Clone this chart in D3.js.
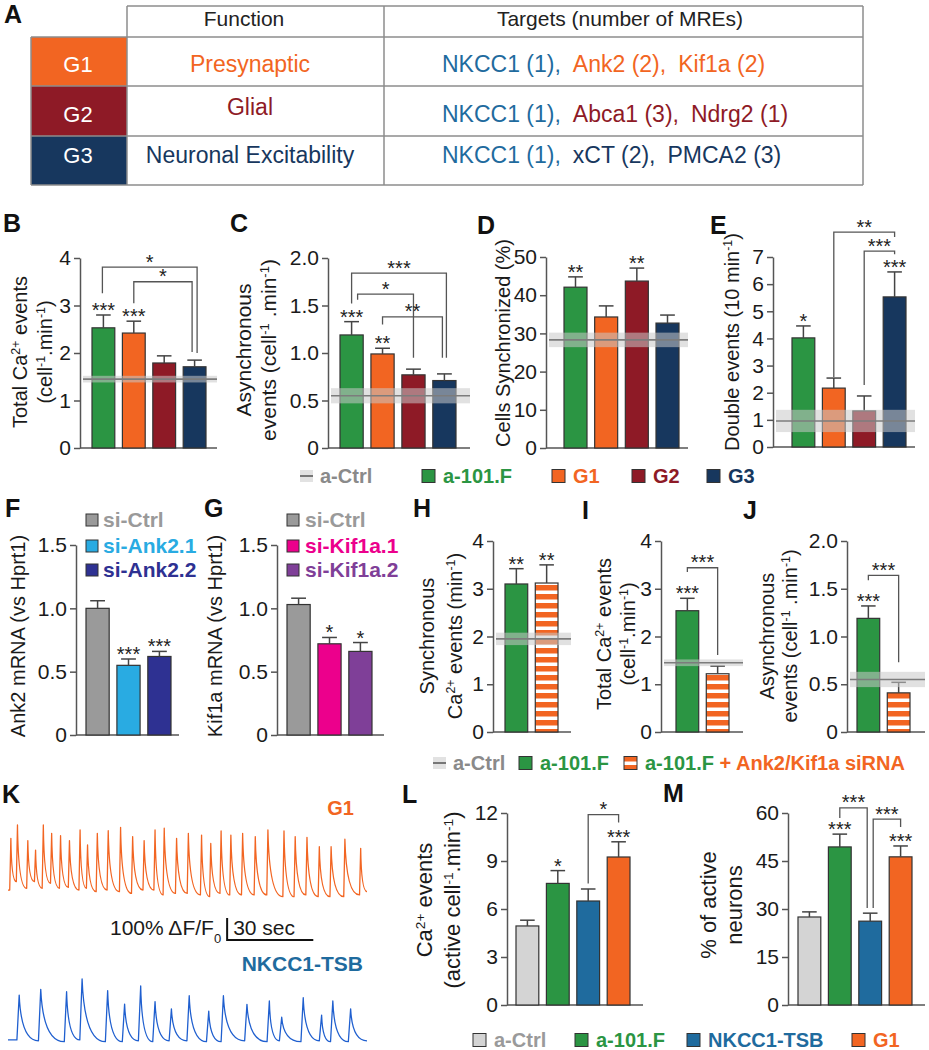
<!DOCTYPE html>
<html>
<head>
<meta charset="utf-8">
<script src="https://cdn.jsdelivr.net/npm/d3@7"></script>
<style>
body { margin: 0; background: #fff; }
svg { display: block; font-family: "Liberation Sans", Arial, Helvetica, sans-serif; }
</style>
</head>
<body>
<script>
// ---------- data ----------
var groupIds = ["G1", "G2", "G3"];
var groupFunctions = ["Presynaptic", "Glial", "Neuronal Excitability"];
var groupTargets = [
  ["NKCC1 (1)", "Ank2 (2)", "Kif1a (2)"],
  ["NKCC1 (1)", "Abca1 (3)", "Ndrg2 (1)"],
  ["NKCC1 (1)", "xCT (2)", "PMCA2 (3)"]
];

var treatments = ["a-101.F", "G1", "G2", "G3"];
var totalMean = [2.53, 2.42, 1.79, 1.71], totalSem = [0.27, 0.25, 0.15, 0.14];
var asyncMean = [1.19, 0.99, 0.77, 0.71], asyncSem = [0.14, 0.06, 0.06, 0.07];
var syncPctMean = [42.1, 34.3, 43.7, 32.7], syncPctSem = [2.7, 2.9, 3.4, 2.1];
var doubleMean = [4.02, 2.17, 1.33, 5.53], doubleSem = [0.44, 0.37, 0.55, 0.92];
var ctrlTotal = [1.45, 0.07], ctrlAsync = [0.55, 0.08], ctrlSync = [28.3, 1.9], ctrlDouble = [0.96, 0.41], ctrlSyncEv = [1.95, 0.13];

var ankGroups = ["si-Ctrl", "si-Ank2.1", "si-Ank2.2"];
var ankMean = [1.0, 0.55, 0.62], ankSem = [0.06, 0.05, 0.04];
var kifGroups = ["si-Ctrl", "si-Kif1a.1", "si-Kif1a.2"];
var kifMean = [1.03, 0.72, 0.66], kifSem = [0.05, 0.05, 0.07];

var sirnaGroups = ["a-101.F", "a-101.F + Ank2/Kif1a siRNA"];
var syncEvMean = [3.10, 3.12], syncEvSem = [0.32, 0.38];
var sirnaTotalMean = [2.54, 1.22], sirnaTotalSem = [0.26, 0.16];
var sirnaAsyncMean = [1.19, 0.41], sirnaAsyncSem = [0.13, 0.11];

var neuronGroups = ["a-Ctrl", "a-101.F", "NKCC1-TSB", "G1"];
var activeEvMean = [4.94, 7.6, 6.5, 9.25], activeEvSem = [0.36, 0.8, 0.75, 0.95];
var activePctMean = [27.5, 49.4, 26.2, 46.3], activePctSem = [1.6, 4.0, 2.5, 3.4];

// calcium traces: rise time (s), peak and pre-rise level (% dF/F0)
var g1Time = [1.0, 3.3, 6.9, 9.6, 12.3, 15.2, 18.3, 21.4, 25.1, 27.7, 31.1, 34.9, 39.2, 43.4, 47.4, 51.2, 54.4,
  58.7, 62.8, 67.4, 70.6, 74.2, 77.6, 81.7, 86.1, 90.5, 96.1, 100.0, 104.1, 108.4, 112.5, 117.3, 122.8];
var g1Peak = [271, 332, 261, 218, 332, 294, 283, 261, 309, 241, 294, 306, 321, 279, 261, 309, 317,
  271, 294, 286, 248, 305, 286, 294, 279, 309, 305, 279, 276, 233, 233, 267, 226];
var g1Trough = [36, 74, 44, 74, 44, 67, 44, 48, 36, 44, 29, 36, 29, 21, 36, 36, 14,
  21, 21, 14, 6, 21, 14, 14, 14, 14, 6, 6, 14, 6, 6, 6, 14];
var g1End = 29;
var tsbTime = [3.9, 11.4, 20.4, 25.8, 34.7, 40.6, 46.2, 51.2, 56.9, 63.1, 69.9, 75.0, 83.2, 91.0, 95.3, 102.8, 109.2, 113.1, 119.3];
var tsbPeak = [218, 244, 233, 291, 238, 177, 259, 188, 155, 215, 145, 215, 176, 191, 117, 206, 127, 191, 155];
var tsbTrough = [14, 10, 6, 14, 6, 6, 10, 6, 10, 10, 6, 6, 10, 6, 10, 6, 10, 6, 6];
var tsbEnd = 10;

// ---------- styles ----------
var col = {
  green: "#2b9543", orange: "#f26522", red: "#8e1a26", navy: "#17375e", nkcc: "#1f6b9e",
  grey: "#9a9a9a", lgrey: "#d4d4d4", cyan: "#29abe2", blue2: "#2e3192", pink: "#ec008c",
  purple: "#7f3f98", trace2: "#1f5fcf", txt: "#1a1a1a", axis: "#555"
};
var groupCol = [col.orange, col.red, col.navy];

var svg = d3.select("body").append("svg").attr("width", 929).attr("height", 1050);
svg.append("rect").attr("width", 929).attr("height", 1050).attr("fill", "#fff");

var defs = svg.append("defs");
var pat = defs.append("pattern").attr("id", "stripes").attr("patternUnits", "userSpaceOnUse")
  .attr("width", 10).attr("height", 9);
pat.append("rect").attr("width", 10).attr("height", 9).attr("fill", "#fff");
pat.append("rect").attr("width", 10).attr("height", 5.5).attr("fill", col.orange);

// ---------- panel letters ----------
[["A", 4, 23], ["B", 3, 232], ["C", 230, 232], ["D", 477, 234], ["E", 710, 234],
 ["F", 5, 517], ["G", 204, 517], ["H", 413, 517], ["I", 582, 519], ["J", 743, 519],
 ["K", 2, 803], ["L", 402, 803], ["M", 663, 802]].forEach(function(p) {
  svg.append("text").attr("x", p[1]).attr("y", p[2]).attr("font-size", 25).attr("font-weight", "bold")
    .attr("fill", "#111").text(p[0]);
});

// ---------- A: table ----------
var tb = { x0: 31, x1: 127, x2: 384, x3: 863, r: [6, 37, 86, 136, 185] };
groupIds.forEach(function(gid, i) {
  svg.append("rect").attr("x", tb.x0).attr("y", tb.r[i + 1]).attr("width", tb.x1 - tb.x0)
    .attr("height", tb.r[i + 2] - tb.r[i + 1]).attr("fill", groupCol[i]);
});
var tl = svg.append("g").attr("stroke", "#8c8c8c").attr("stroke-width", 1.5);
tl.append("line").attr("x1", tb.x1).attr("x2", tb.x3).attr("y1", tb.r[0]).attr("y2", tb.r[0]);
tb.r.slice(1).forEach(function(yy) {
  tl.append("line").attr("x1", tb.x0).attr("x2", tb.x3).attr("y1", yy).attr("y2", yy);
});
[tb.x1, tb.x2, tb.x3].forEach(function(xx) {
  tl.append("line").attr("x1", xx).attr("x2", xx).attr("y1", tb.r[0]).attr("y2", tb.r[4]);
});
tl.append("line").attr("x1", tb.x0).attr("x2", tb.x0).attr("y1", tb.r[1]).attr("y2", tb.r[4]);

svg.append("text").attr("x", 244).attr("y", 26).attr("text-anchor", "middle").attr("font-size", 21)
  .attr("fill", "#222").text("Function");
svg.append("text").attr("x", 620).attr("y", 26).attr("text-anchor", "middle").attr("font-size", 21)
  .attr("fill", "#222").text("Targets (number of MREs)");
var fnBase = [72, 115, 163], rowBase = [72, 122, 163];
groupIds.forEach(function(gid, i) {
  svg.append("text").attr("x", 78).attr("y", rowBase[i]).attr("text-anchor", "middle").attr("font-size", 22)
    .attr("fill", "#fff").text(gid);
  svg.append("text").attr("x", 250).attr("y", fnBase[i]).attr("text-anchor", "middle").attr("font-size", 23)
    .attr("fill", groupCol[i]).text(groupFunctions[i]);
  var t = svg.append("text").attr("x", 442).attr("y", rowBase[i]).attr("font-size", 23);
  groupTargets[i].forEach(function(gene, j) {
    t.append("tspan").attr("dx", j ? 12 : 0)
      .attr("fill", gene.indexOf("NKCC1") === 0 ? col.nkcc : groupCol[i])
      .text(gene + (j < groupTargets[i].length - 1 ? "," : ""));
  });
});

// ---------- helpers ----------
function richText(sel, segs) {
  segs.forEach(function(s) {
    var ts = sel.append("tspan").text(s[0]);
    if (s[1] === "sup") ts.attr("baseline-shift", "super").attr("font-size", "0.62em");
    if (s[1] === "sub") ts.attr("baseline-shift", "sub").attr("font-size", "0.62em");
  });
}

function yLabel(lines, xs, cy, fs) {
  lines.forEach(function(segs, k) {
    var t = svg.append("text").attr("transform", "translate(" + xs[k] + "," + cy + ") rotate(-90)")
      .attr("text-anchor", "middle").attr("font-size", fs).attr("fill", col.txt);
    richText(t, segs);
  });
}

function barPanel(o) {
  var g = svg.append("g");
  var n = o.values.length;
  var x = d3.scaleBand().domain(d3.range(n)).range(o.bars).paddingInner(0.25).paddingOuter(0);
  var y = d3.scaleLinear().domain([0, o.ymax]).range([o.y0, o.y1]);
  var bw = x.bandwidth();
  var fmt = o.dec ? function(d) { return d === 0 ? "0" : d3.format(".1f")(d); } : d3.format("d");

  var ax = g.append("g").attr("transform", "translate(" + o.ax + ",0)")
    .call(d3.axisLeft(y).tickValues(o.ticks).tickSize(6).tickSizeOuter(0).tickPadding(3).tickFormat(fmt));
  ax.attr("font-size", 21).attr("font-family", null);
  ax.selectAll("path, line").attr("stroke", col.axis).attr("stroke-width", 1.5);
  ax.selectAll("text").attr("fill", col.txt);
  g.append("line").attr("x1", o.ax).attr("x2", o.end).attr("y1", y(0)).attr("y2", y(0))
    .attr("stroke", col.axis).attr("stroke-width", 1.5);

  g.selectAll("rect.bar").data(o.values).join("rect").attr("class", "bar")
    .attr("x", function(d, i) { return x(i); }).attr("width", bw)
    .attr("y", function(d) { return y(d); }).attr("height", function(d) { return y(0) - y(d); })
    .attr("fill", function(d, i) { return o.fills[i]; })
    .attr("stroke", "#333").attr("stroke-width", 1.2);

  o.values.forEach(function(d, i) {
    var cx = x(i) + bw / 2, top = y(d + o.sem[i]);
    g.append("line").attr("x1", cx).attr("x2", cx).attr("y1", y(d)).attr("y2", top)
      .attr("stroke", "#444").attr("stroke-width", 1.5);
    g.append("line").attr("x1", cx - bw * 0.32).attr("x2", cx + bw * 0.32).attr("y1", top).attr("y2", top)
      .attr("stroke", "#444").attr("stroke-width", 1.5);
  });

  if (o.ctrl) {
    g.append("rect").attr("x", o.ax + 3).attr("width", o.end - o.ax - 3)
      .attr("y", y(o.ctrl[0] + o.ctrl[1])).attr("height", y(o.ctrl[0] - o.ctrl[1]) - y(o.ctrl[0] + o.ctrl[1]))
      .attr("fill", "#c9c9c9").attr("opacity", 0.55);
    g.append("line").attr("x1", o.ax + 3).attr("x2", o.end).attr("y1", y(o.ctrl[0])).attr("y2", y(o.ctrl[0]))
      .attr("stroke", "#7c7c7c").attr("stroke-width", 1.6);
  }

  (o.stars || []).forEach(function(s, i) {
    if (!s) return;
    g.append("text").attr("x", x(i) + bw / 2).attr("y", y(o.values[i] + o.sem[i]) + 2)
      .attr("text-anchor", "middle").attr("font-size", 20).attr("fill", "#222").text(s);
  });

  (o.brackets || []).forEach(function(b) {
    var xa = x(b.a) + bw / 2 + (b.dxa || 0), xb = x(b.b) + bw / 2 + (b.dxb || 0);
    g.append("path").attr("d", "M" + xa + "," + y(b.ya) + "V" + y(b.y) + "H" + xb + "V" + y(b.yb))
      .attr("fill", "none").attr("stroke", "#555").attr("stroke-width", 1.3);
    g.append("text").attr("x", (xa + xb) / 2).attr("y", y(b.y) + 1.5).attr("text-anchor", "middle")
      .attr("font-size", 20).attr("fill", "#222").text(b.lab);
  });
}

function legendItem(x, yc, fill, label, color) {
  svg.append("rect").attr("x", x).attr("y", yc - 6.5).attr("width", 13).attr("height", 13)
    .attr("fill", fill).attr("stroke", "#333").attr("stroke-width", 1);
  var t = svg.append("text").attr("x", x + 21).attr("y", yc + 7).attr("font-size", 20)
    .attr("font-weight", "bold");
  if (typeof label === "string") t.attr("fill", color).text(label);
  else label.forEach(function(s) { t.append("tspan").attr("fill", s[1]).text(s[0]); });
}

function ctrlLegend(x, yc, label) {
  svg.append("rect").attr("x", x).attr("y", yc - 6).attr("width", 13).attr("height", 12).attr("fill", "#e2e2e2");
  svg.append("line").attr("x1", x).attr("x2", x + 13).attr("y1", yc).attr("y2", yc)
    .attr("stroke", "#777").attr("stroke-width", 2);
  svg.append("text").attr("x", x + 20).attr("y", yc + 7).attr("font-size", 20).attr("font-weight", "bold")
    .attr("fill", "#8a8a8a").text(label);
}

var fourFill = [col.green, col.orange, col.red, col.navy];

// ---------- B - E ----------
barPanel({ values: totalMean, sem: totalSem, fills: fourFill, ctrl: ctrlTotal,
  ax: 80, end: 217, bars: [92, 206], y0: 448, y1: 258, ymax: 4, ticks: [0, 1, 2, 3, 4],
  stars: ["***", "***", "", ""],
  brackets: [{ a: 0, b: 3, y: 3.81, ya: 3.26, yb: 2.0, lab: "*", dxa: -1, dxb: 2.5 },
             { a: 1, b: 3, y: 3.5, ya: 3.05, yb: 2.02, lab: "*", dxb: -2.5 }] });
yLabel([[["Total Ca"], ["2+", "sup"], [" events"]], [["(cell"], ["-1", "sup"], [".min"], ["-1", "sup"], [")"]]],
  [27, 52], 352, 20);

barPanel({ values: asyncMean, sem: asyncSem, fills: fourFill, ctrl: ctrlAsync,
  ax: 328, end: 470, bars: [340, 456], y0: 448, y1: 258, ymax: 2, ticks: [0, 0.5, 1, 1.5, 2], dec: true,
  stars: ["***", "**", "", ""],
  brackets: [{ a: 0, b: 3, y: 1.84, ya: 1.52, yb: 0.95, lab: "***", dxb: 2 },
             { a: 0, b: 2, y: 1.62, ya: 1.56, yb: 0.95, lab: "*", dxa: 6 },
             { a: 1, b: 3, y: 1.38, ya: 1.3, yb: 0.95, lab: "**", dxb: -2 }] });
yLabel([[["Asynchronous"]], [["events (cell"], ["-1", "sup"], [" .min"], ["-1", "sup"], [")"]]],
  [251, 276], 350, 21);

barPanel({ values: syncPctMean, sem: syncPctSem, fills: fourFill, ctrl: ctrlSync,
  ax: 546, end: 688, bars: [564, 679], y0: 448, y1: 257, ymax: 50, ticks: d3.range(0, 51, 10),
  stars: ["**", "", "**", ""] });
yLabel([[["Cells Synchronized (%)"]]], [510], 343, 20);

barPanel({ values: doubleMean, sem: doubleSem, fills: fourFill, ctrl: ctrlDouble,
  ax: 773, end: 915, bars: [792, 906], y0: 447, y1: 257, ymax: 7, ticks: d3.range(0, 8),
  stars: ["*", "", "", "***"],
  brackets: [{ a: 1, b: 3, y: 7.92, ya: 2.58, yb: 7.74, lab: "**" },
             { a: 2, b: 3, y: 7.22, ya: 2.28, yb: 7.1, lab: "***" }] });
yLabel([[["Double events (10 min"], ["-1", "sup"], [")"]]], [739], 342, 20);

ctrlLegend(300, 476, "a-Ctrl");
[422, 552, 632, 707].forEach(function(xx, i) { legendItem(xx, 476, fourFill[i], treatments[i], fourFill[i]); });

// ---------- F, G ----------
var ankFill = [col.grey, col.cyan, col.blue2], kifFill = [col.grey, col.pink, col.purple];
barPanel({ values: ankMean, sem: ankSem, fills: ankFill,
  ax: 76, end: 179, bars: [86, 171], y0: 735, y1: 545, ymax: 1.5, ticks: [0, 0.5, 1, 1.5], dec: true,
  stars: ["", "***", "***"] });
yLabel([[["Ank2 mRNA (vs Hprt1)"]]], [25], 636, 20);
barPanel({ values: kifMean, sem: kifSem, fills: kifFill,
  ax: 277, end: 384, bars: [287, 372], y0: 735, y1: 545, ymax: 1.5, ticks: [0, 0.5, 1, 1.5], dec: true,
  stars: ["", "*", "*"] });
yLabel([[["Kif1a mRNA (vs Hprt1)"]]], [222], 636, 20);
[520, 546, 570].forEach(function(yc, i) {
  svg.append("rect").attr("x", 86).attr("y", yc - 6).attr("width", 12).attr("height", 12)
    .attr("fill", ankFill[i]).attr("stroke", "#333").attr("stroke-width", 1);
  svg.append("text").attr("x", 103).attr("y", yc + 7).attr("font-size", 21).attr("font-weight", "bold")
    .attr("fill", ankFill[i]).text(ankGroups[i]);
  svg.append("rect").attr("x", 287).attr("y", yc - 6).attr("width", 12).attr("height", 12)
    .attr("fill", kifFill[i]).attr("stroke", "#333").attr("stroke-width", 1);
  svg.append("text").attr("x", 305).attr("y", yc + 7).attr("font-size", 21).attr("font-weight", "bold")
    .attr("fill", kifFill[i]).text(kifGroups[i]);
});

// ---------- H, I, J ----------
var sirnaFill = [col.green, "url(#stripes)"];
barPanel({ values: syncEvMean, sem: syncEvSem, fills: sirnaFill, ctrl: ctrlSyncEv,
  ax: 493, end: 571, bars: [505, 558], y0: 732, y1: 541, ymax: 4, ticks: [0, 1, 2, 3, 4],
  stars: ["**", "**"] });
yLabel([[["Synchronous"]], [["Ca"], ["2+", "sup"], [" events (min"], ["-1", "sup"], [")"]]], [434, 462], 636, 20);

barPanel({ values: sirnaTotalMean, sem: sirnaTotalSem, fills: sirnaFill, ctrl: ctrlTotal,
  ax: 661, end: 743, bars: [676, 729], y0: 732, y1: 541, ymax: 4, ticks: [0, 1, 2, 3, 4],
  stars: ["***", ""],
  brackets: [{ a: 0, b: 1, y: 3.44, ya: 3.35, yb: 1.61, lab: "***" }] });
yLabel([[["Total Ca"], ["2+", "sup"], [" events"]], [["(cell"], ["-1", "sup"], [".min"], ["-1", "sup"], [")"]]],
  [611, 635], 634, 20);

barPanel({ values: sirnaAsyncMean, sem: sirnaAsyncSem, fills: sirnaFill, ctrl: ctrlAsync,
  ax: 847, end: 925, bars: [857, 910], y0: 732, y1: 541, ymax: 2, ticks: [0, 0.5, 1, 1.5, 2], dec: true,
  stars: ["***", ""],
  brackets: [{ a: 0, b: 1, y: 1.64, ya: 1.59, yb: 0.73, lab: "***" }] });
yLabel([[["Asynchronous"]], [["events (cell"], ["-1", "sup"], [" .min"], ["-1", "sup"], [")"]]],
  [774, 797], 636, 20);

ctrlLegend(433, 763, "a-Ctrl");
legendItem(519, 763, col.green, sirnaGroups[0], col.green);
legendItem(624, 763, "url(#stripes)", [["a-101.F", col.green], [sirnaGroups[1].slice(7), col.orange]]);

// ---------- K: traces ----------
var xT = d3.scaleLinear().domain([0, 125]).range([8, 367]);
var yG1 = d3.scaleLinear().domain([0, 100]).range([898, 876]);
var yTSB = d3.scaleLinear().domain([0, 100]).range([1043, 1021]);

function tracePath(times, peaks, troughs, endV, yS, rise) {
  var p = d3.path();
  p.moveTo(xT(0), yS(troughs[0]));
  times.forEach(function(t, i) {
    p.lineTo(xT(t - rise), yS(troughs[i]));
    p.lineTo(xT(t), yS(peaks[i]));
    var last = i === times.length - 1;
    var tn = last ? 125 : times[i + 1] - rise;
    var vn = last ? endV : troughs[i + 1];
    p.quadraticCurveTo(xT(t + (tn - t) * 0.1), yS(vn), xT(tn), yS(vn));
  });
  return p.toString();
}
svg.append("path").attr("d", tracePath(g1Time, g1Peak, g1Trough, g1End, yG1, 0.4))
  .attr("fill", "none").attr("stroke", col.orange).attr("stroke-width", 1.3).attr("stroke-linejoin", "round");
svg.append("path").attr("d", tracePath(tsbTime, tsbPeak, tsbTrough, tsbEnd, yTSB, 0.8))
  .attr("fill", "none").attr("stroke", col.trace2).attr("stroke-width", 1.3).attr("stroke-linejoin", "round");

svg.append("text").attr("x", 354).attr("y", 815).attr("text-anchor", "end").attr("font-size", 20)
  .attr("font-weight", "bold").attr("fill", col.orange).text("G1");
svg.append("text").attr("x", 363).attr("y", 971).attr("text-anchor", "end").attr("font-size", 21)
  .attr("font-weight", "bold").attr("fill", col.nkcc).text("NKCC1-TSB");

var sbX = xT(76.3), sbY = 940;
svg.append("path").attr("d", "M" + sbX + "," + (sbY - (yG1(0) - yG1(100))) + "V" + sbY + "H" + (sbX + xT(30) - xT(0)))
  .attr("fill", "none").attr("stroke", "#111").attr("stroke-width", 2);
var sbt = svg.append("text").attr("x", sbX - 6).attr("y", 935).attr("text-anchor", "end").attr("font-size", 21)
  .attr("fill", col.txt);
richText(sbt, [["100% \u0394F/F"], ["0", "sub"]]);
svg.append("text").attr("x", sbX + 6).attr("y", 935).attr("font-size", 21).attr("fill", col.txt).text("30 sec");

// ---------- L, M ----------
var neuronFill = [col.lgrey, col.green, col.nkcc, col.orange];
barPanel({ values: activeEvMean, sem: activeEvSem, fills: neuronFill,
  ax: 507, end: 643, bars: [516, 630], y0: 1005, y1: 813, ymax: 12, ticks: [0, 3, 6, 9, 12],
  stars: ["", "*", "", "***"],
  brackets: [{ a: 2, b: 3, y: 11.9, ya: 7.6, yb: 11.4, lab: "*" }] });
yLabel([[["Ca"], ["2+", "sup"], [" events"]], [["(active cell"], ["-1", "sup"], [".min"], ["-1", "sup"], [")"]]],
  [432, 460], 900, 22);

barPanel({ values: activePctMean, sem: activePctSem, fills: neuronFill,
  ax: 788, end: 925, bars: [798, 912], y0: 1005, y1: 813, ymax: 60, ticks: [0, 15, 30, 45, 60],
  stars: ["", "***", "", "***"],
  brackets: [{ a: 1, b: 2, y: 61.6, ya: 58.4, yb: 30.3, lab: "***", dxb: -3 },
             { a: 2, b: 3, y: 58.1, ya: 30.3, yb: 55.6, lab: "***", dxa: 3 }] });
yLabel([[["% of active"]], [["neurons"]]], [716, 742], 905, 22);

[473, 575, 687, 852].forEach(function(xx, i) {
  legendItem(xx, 1040, neuronFill[i], neuronGroups[i], i === 0 ? col.grey : neuronFill[i]);
});
</script>
</body>
</html>
